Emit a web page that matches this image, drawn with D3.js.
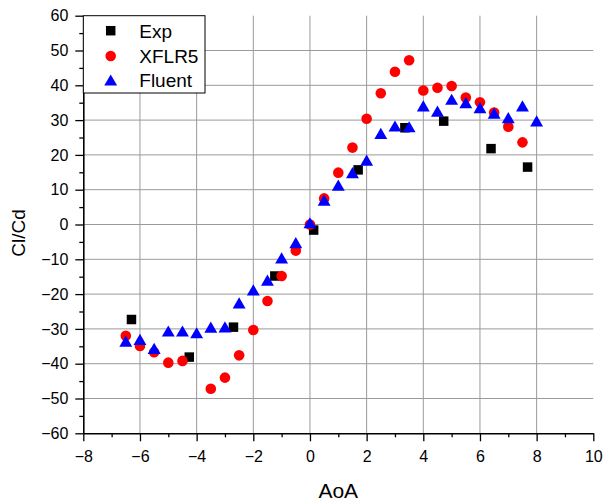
<!DOCTYPE html>
<html>
<head>
<meta charset="utf-8">
<script src="https://cdn.jsdelivr.net/npm/d3@7"></script>
<style>
  body { margin: 0; background: #fff; }
  svg text { font-family: "Liberation Sans", Arial, sans-serif; fill: #000; }
</style>
</head>
<body>
<div id="chart"></div>
<script>
// experimental points
const expAoA = [-6.3, -4.26, -2.7, -1.24, 0.13, 1.7, 3.35, 4.72, 6.39, 7.68];
const expVal = [-27.3, -38.1, -29.5, -14.8, -1.6, 15.7, 27.8, 29.7, 21.8, 16.5];

// XFLR5
const xflrAoA = [-6.5, -6, -5.5, -5, -4.5, -3.5, -3, -2.5, -2, -1.5, -1, -0.5, 0, 0.5, 1, 1.5, 2, 2.5, 3, 3.5, 4, 4.5, 5, 5.5, 6, 6.5, 7, 7.5];
const xflrVal = [-32.0, -34.9, -36.7, -39.7, -39.2, -47.2, -44.0, -37.6, -30.3, -22.0, -14.8, -7.5, 0.0, 7.5, 14.9, 22.1, 30.4, 37.7, 43.9, 47.2, 38.5, 39.3, 39.8, 36.5, 35.1, 32.2, 28.1, 23.6];

// Fluent
const fluentAoA = [-6.5, -6, -5.5, -5, -4.5, -4, -3.5, -3, -2.5, -2, -1.5, -1, -0.5, 0, 0.5, 1, 1.5, 2, 2.5, 3, 3.5, 4, 4.5, 5, 5.5, 6, 6.5, 7, 7.5, 8];
const fluentVal = [-33.5, -33.0, -35.6, -30.6, -30.6, -31.1, -29.5, -29.4, -22.5, -18.8, -16.0, -9.6, -5.2, 0.5, 7.0, 11.3, 14.9, 18.5, 26.2, 28.3, 28.1, 34.1, 32.6, 36.0, 35.0, 33.6, 32.0, 30.7, 34.1, 29.8];

const xTicks = [-8, -6, -4, -2, 0, 2, 4, 6, 8, 10];
const yTicks = [-60, -50, -40, -30, -20, -10, 0, 10, 20, 30, 40, 50, 60];

const width = 606, height = 502;
const pLeft = 83.3, pRight = 593.3, pTop = 15.7, pBottom = 433.3;

const svg = d3.select("#chart").append("svg")
    .attr("width", width)
    .attr("height", height);

const x = d3.scaleLinear().domain([-8, 10]).range([pLeft, pRight]);
const y = d3.scaleLinear().domain([-60, 60]).range([pBottom, pTop]);

// grid
const grid = svg.append("g").attr("stroke", "#9a9a9a").attr("stroke-width", 1);
grid.selectAll("line.v")
    .data(xTicks.filter(d => d > -8 && d < 10))
    .enter().append("line")
    .attr("x1", d => x(d)).attr("x2", d => x(d))
    .attr("y1", pTop).attr("y2", pBottom);
grid.selectAll("line.h")
    .data(yTicks.filter(d => d > -60 && d < 60))
    .enter().append("line")
    .attr("x1", pLeft).attr("x2", pRight)
    .attr("y1", d => y(d)).attr("y2", d => y(d));

// axes
svg.append("g")
    .attr("transform", `translate(0,${pBottom})`)
    .call(d3.axisBottom(x).tickValues(xTicks).tickSize(8).tickSizeOuter(0).tickPadding(9).tickFormat(d3.format("d")));
svg.append("g")
    .attr("transform", `translate(0,${pBottom})`)
    .call(d3.axisBottom(x).tickValues(d3.range(-7, 10, 2)).tickSize(4).tickSizeOuter(0).tickFormat(""))
    .select(".domain").remove();

svg.append("g")
    .attr("transform", `translate(${pLeft},0)`)
    .call(d3.axisLeft(y).tickValues(yTicks).tickSize(8).tickSizeOuter(0).tickPadding(7).tickFormat(d3.format("d")));
svg.append("g")
    .attr("transform", `translate(${pLeft},0)`)
    .call(d3.axisLeft(y).tickValues(d3.range(-55, 60, 10)).tickSize(4).tickSizeOuter(0).tickFormat(""))
    .select(".domain").remove();

svg.selectAll(".tick line").attr("stroke", "#000").attr("stroke-width", 1.3);
svg.selectAll(".domain").attr("stroke", "#000").attr("stroke-width", 1.6);
svg.selectAll(".tick text")
    .attr("font-size", 16)
    .attr("font-family", "Liberation Sans, Arial, sans-serif");

// axis titles
svg.append("text")
    .attr("x", (pLeft + pRight) / 2)
    .attr("y", 498)
    .attr("text-anchor", "middle")
    .attr("font-size", 21)
    .text("AoA");

svg.append("text")
    .attr("transform", "translate(25,233) rotate(-90)")
    .attr("text-anchor", "middle")
    .attr("font-size", 19)
    .text("Cl/Cd");

// markers
const sq = d3.symbol().type(d3.symbolSquare).size(90);
const ci = d3.symbol().type(d3.symbolCircle).size(88);
const triSize = 72;
const tri = d3.symbol().type(d3.symbolTriangle).size(triSize);
// shift triangle so its bounding box is centred on the point
const triSide = Math.sqrt(triSize * 4 / Math.sqrt(3));
const triOff = triSide * Math.sqrt(3) / 2 / 6;

const pts = svg.append("g");
pts.selectAll("path.exp")
    .data(d3.zip(expAoA, expVal))
    .enter().append("path")
    .attr("d", sq)
    .attr("fill", "#000")
    .attr("transform", d => `translate(${x(d[0])},${y(d[1])})`);

pts.selectAll("path.xflr")
    .data(d3.zip(xflrAoA, xflrVal))
    .enter().append("path")
    .attr("d", ci)
    .attr("fill", "#ff0000")
    .attr("transform", d => `translate(${x(d[0])},${y(d[1])})`);

pts.selectAll("path.fluent")
    .data(d3.zip(fluentAoA, fluentVal))
    .enter().append("path")
    .attr("d", tri)
    .attr("fill", "#0000ff")
    .attr("transform", d => `translate(${x(d[0])},${y(d[1]) + triOff})`);

// legend
const legend = svg.append("g");
legend.append("rect")
    .attr("x", pLeft).attr("y", pTop)
    .attr("width", 205 - pLeft).attr("height", 93 - pTop)
    .attr("fill", "#fff").attr("stroke", "#000").attr("stroke-width", 1);

const legendItems = [
    { name: "Exp", sym: sq, color: "#000", dy: 0 },
    { name: "XFLR5", sym: ci, color: "#ff0000", dy: 0 },
    { name: "Fluent", sym: tri, color: "#0000ff", dy: triOff }
];
const legendY = [30.7, 56, 80];
legendItems.forEach((it, i) => {
    legend.append("path")
        .attr("d", it.sym)
        .attr("fill", it.color)
        .attr("transform", `translate(110.7,${legendY[i] + it.dy})`);
    legend.append("text")
        .attr("x", 139.3)
        .attr("y", legendY[i] + 7)
        .attr("font-size", 19)
        .text(it.name);
});
</script>
</body>
</html>
